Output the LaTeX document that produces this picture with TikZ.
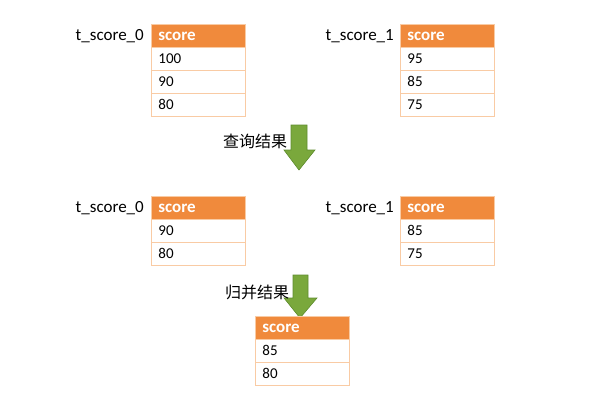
\documentclass[tikz,border=0pt]{standalone}
\usepackage{fontspec}
\setmainfont{Carlito}
\newfontfamily\cjk{Noto Sans CJK SC}
\usetikzlibrary{positioning}
\definecolor{hdr}{HTML}{F08A3C}
\definecolor{bdr}{HTML}{F9CBA4}
\definecolor{arrfill}{HTML}{7AA83C}
\definecolor{arrline}{HTML}{5E8C2E}
\tikzset{
  hcell/.style={draw=bdr, fill=hdr, line width=0.8pt, minimum width=94pt, minimum height=23pt, inner sep=0pt, text=white, font=\fontsize{17}{17}\selectfont\bfseries, anchor=north west, text width=80pt, align=left},
  cell/.style={draw=bdr, fill=white, line width=0.8pt, minimum width=94pt, minimum height=23pt, inner sep=0pt, text=black, font=\fontsize{15}{15}\selectfont, anchor=north west, text width=80pt, align=left},
  tlabel/.style={font=\fontsize{17}{17}\selectfont, anchor=east, inner sep=0pt},
  clabel/.style={font=\cjk\fontsize{16}{16}\selectfont, inner sep=0pt},
  bigarrow/.style={fill=arrfill, draw=arrline, line width=0.6pt}
}
\begin{document}
\begin{tikzpicture}[x=1pt,y=-1pt]
\useasboundingbox (0,0) rectangle (600,400);
% top tables
\node[hcell] (a0) at (151,24) {score};
\node[cell] (a1) at (151,47) {100};
\node[cell] (a2) at (151,70) {90};
\node[cell] (a3) at (151,93) {80};
\node[tlabel] (la) at (144,36) {t\_score\_0};
\node[hcell] (b0) at (400,24) {score};
\node[cell] (b1) at (400,47) {95};
\node[cell] (b2) at (400,70) {85};
\node[cell] (b3) at (400,93) {75};
\node[tlabel] (lb) at (394,36) {t\_score\_1};
% arrow 1
\draw[bigarrow] (291,125) -- (307,125) -- (307,150) -- (315,150) -- (299,170) -- (284,150) -- (291,150) -- cycle;
\node[clabel] (q1) at (255,141) {查询结果};
% middle tables
\node[hcell] (c0) at (151,196) {score};
\node[cell] (c1) at (151,219) {90};
\node[cell] (c2) at (151,242) {80};
\node[tlabel] (lc) at (144,208) {t\_score\_0};
\node[hcell] (d0) at (400,196) {score};
\node[cell] (d1) at (400,219) {85};
\node[cell] (d2) at (400,242) {75};
\node[tlabel] (ld) at (394,208) {t\_score\_1};
% arrow 2
\draw[bigarrow] (293,275) -- (308,275) -- (308,298) -- (317,298) -- (300,318) -- (284,298) -- (293,298) -- cycle;
\node[clabel] (q2) at (257,292) {归并结果};
% bottom table
\node[hcell] (e0) at (255,316) {score};
\node[cell] (e1) at (255,339) {85};
\node[cell] (e2) at (255,362) {80};
\end{tikzpicture}
\end{document}
